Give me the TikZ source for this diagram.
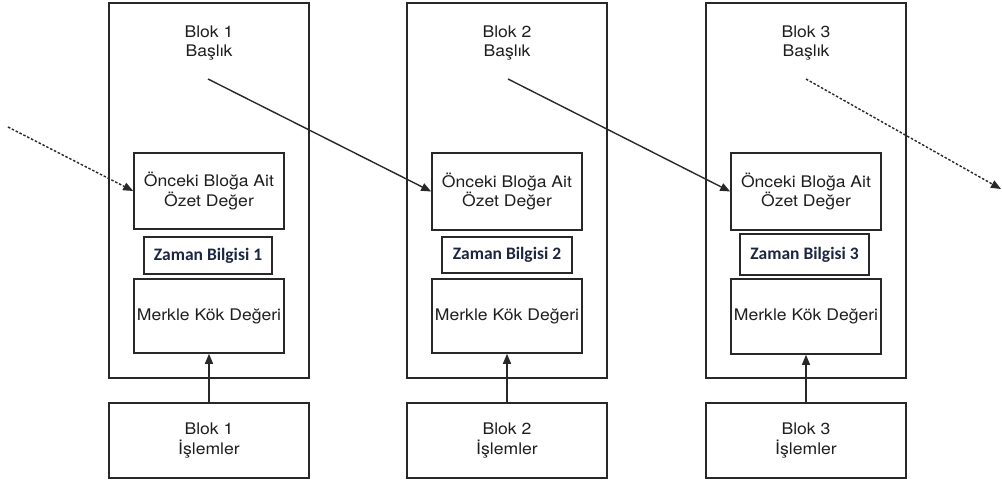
\documentclass[tikz,border=0pt]{standalone}
\usepackage{fontspec}
\setmainfont[FakeStretch=1.1]{TeX Gyre Heros}
\newfontfamily\zamanfont{Carlito}
\usetikzlibrary{arrows.meta}
\definecolor{linecol}{RGB}{40,40,40}
\definecolor{txtcol}{RGB}{30,30,30}
\definecolor{zamancol}{RGB}{28,38,66}
\tikzset{
  outerbox/.style={draw=linecol, line width=1.6pt, minimum width=200pt, minimum height=375pt, inner sep=0pt},
  innerbox/.style={draw=linecol, line width=1.6pt, minimum width=150pt, inner sep=0pt, align=center, text=txtcol,
    font=\fontsize{16pt}{19.5pt}\selectfont},
  zamanbox/.style={draw=linecol, line width=1.4pt, inner sep=0pt, text=zamancol,
    font=\zamanfont\bfseries\fontsize{17.5pt}{20pt}\selectfont},
  txbox/.style={draw=linecol, line width=1.6pt, minimum width=200pt, minimum height=75pt, inner sep=0pt, align=center,
    text=txtcol, font=\fontsize{16pt}{19.5pt}\selectfont},
  titletext/.style={align=center, text=txtcol, font=\fontsize{16pt}{19.5pt}\selectfont, inner sep=0pt},
  link/.style={draw=linecol, line width=1.4pt, -{Triangle[length=10pt,width=8pt]}},
  dotlink/.style={link, dash pattern=on 2.5pt off 1.8pt},
}
\begin{document}
\begin{tikzpicture}[x=1pt,y=-1pt]
\useasboundingbox (0,0) rectangle (1002,481);
% Block 1
\node[outerbox] (b1) at (209,190.5) {};
\node[titletext] (t1) at (209,43) {Blok 1\\Başlık};
\node[innerbox, minimum height=76pt] (o1) at (209,191) {Önceki Bloğa Ait\\Özet Değer};
\node[zamanbox, minimum width=128pt, minimum height=37pt] (z1) at (208,255.5) {Zaman Bilgisi 1};
\node[innerbox, minimum height=74pt] (m1) at (209,316) {Merkle Kök Değeri};
\node[txbox] (i1) at (209,440.5) {Blok 1\\İşlemler};
\coordinate (s1) at (208,79);
% Block 2
\node[outerbox] (b2) at (507,190.5) {};
\node[titletext] (t2) at (507,43) {Blok 2\\Başlık};
\node[innerbox, minimum height=77pt] (o2) at (507,191.5) {Önceki Bloğa Ait\\Özet Değer};
\node[zamanbox, minimum width=130pt, minimum height=36pt] (z2) at (507,255) {Zaman Bilgisi 2};
\node[innerbox, minimum height=74pt] (m2) at (507,316) {Merkle Kök Değeri};
\node[txbox] (i2) at (507,440.5) {Blok 2\\İşlemler};
\coordinate (s2) at (508,79);
% Block 3
\node[outerbox] (b3) at (806,190.5) {};
\node[titletext] (t3) at (806,43) {Blok 3\\Başlık};
\node[innerbox, minimum height=77pt] (o3) at (806,191.5) {Önceki Bloğa Ait\\Özet Değer};
\node[zamanbox, minimum width=129pt, minimum height=41pt] (z3) at (804.5,254.5) {Zaman Bilgisi 3};
\node[innerbox, minimum height=75pt] (m3) at (806,316.5) {Merkle Kök Değeri};
\node[txbox] (i3) at (806,440.5) {Blok 3\\İşlemler};
\coordinate (s3) at (806,79);
% free ends
\coordinate (in0) at (8,127);
\coordinate (out3) at (1001,189);
% connectors
\draw[dotlink] (in0) -- (o1.west);
\draw[link] (s1) -- (o2.west);
\draw[link] (s2) -- (o3.west);
\draw[dotlink] (s3) -- (out3);
\draw[link] (i1.north) -- (m1.south);
\draw[link] (i2.north) -- (m2.south);
\draw[link] (i3.north) -- (m3.south);
\end{tikzpicture}
\end{document}
